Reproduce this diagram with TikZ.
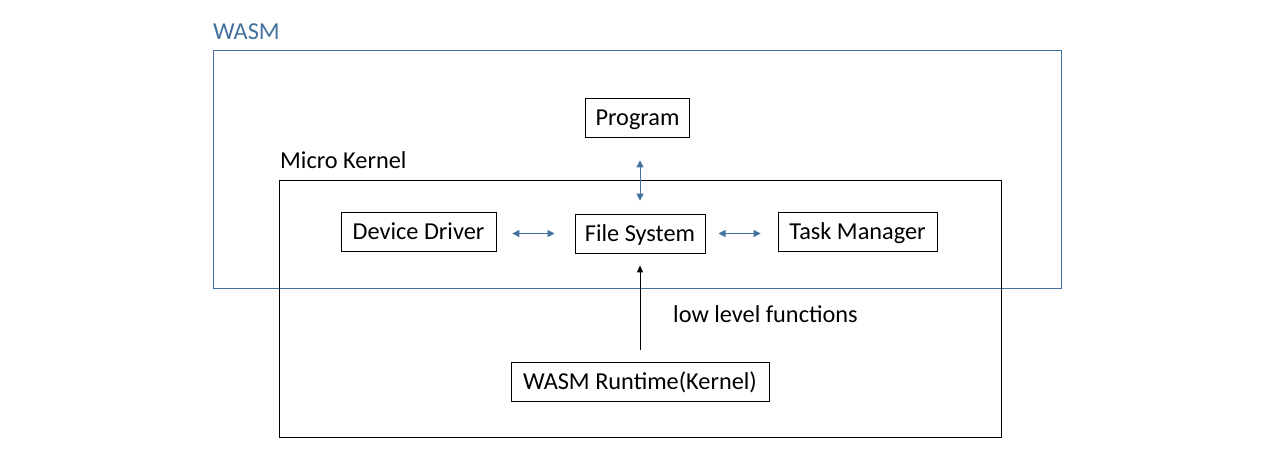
\documentclass[tikz,border=0pt]{standalone}
\usepackage{fontspec}
\setmainfont{Carlito}
\usepackage{tikz}
\usetikzlibrary{arrows.meta,positioning,calc}
\definecolor{wasmblue}{HTML}{41719C}

\tikzset{
  blk/.style={draw, line width=0.8bp, minimum height=39bp, inner xsep=10bp, inner ysep=0pt, text height=18bp, text depth=2.5bp, font=\fontsize{24.4}{29}\selectfont},
  lbl/.style={font=\fontsize{24.4}{29}\selectfont, inner sep=0pt, anchor=west},
  link/.style={wasmblue, line width=0.9bp, {Triangle[length=7bp,width=7bp]}-{Triangle[length=7bp,width=7bp]}}
}

\begin{document}
\begin{tikzpicture}[x=1bp,y=-1bp]
\useasboundingbox (0,0) rectangle (1280,473);
% frames
\draw[wasmblue, line width=0.9bp] (213,50) rectangle (1061,288);
\draw[line width=0.9bp] (279,180) rectangle (1001,437);
\node[lbl, text=wasmblue] (wasm) at (213,32) {WASM};
\node[lbl] (mk) at (280,160) {Micro Kernel};
% boxes
\node[blk, minimum width=103bp] (prog) at (637.5,117.5) {Program};
\node[blk, minimum width=155bp] (dd) at (418.5,232) {Device Driver};
\node[blk, minimum width=128bp] (fs) at (640,233.5) {File System};
\node[blk, minimum width=159bp] (tm) at (857.5,231.5) {Task Manager};
\node[blk, minimum width=258bp] (rt) at (640,381.5) {WASM Runtime(Kernel)};
% links
\draw[link, shorten <=23bp, shorten >=13bp] (fs.north |- prog.south) -- (fs.north);
\draw[link, shorten <=16bp, shorten >=20bp] (dd.east |- fs.west) -- (fs.west);
\draw[link, shorten <=13bp, shorten >=17bp] (fs.east) -- (tm.west |- fs.east);
\draw[line width=0.9bp, -{Triangle[length=7bp,width=6bp]}, shorten <=12bp, shorten >=12bp] (rt) -- (fs);
\node[lbl] (llf) at (673,314) {low level functions};
\end{tikzpicture}
\end{document}
